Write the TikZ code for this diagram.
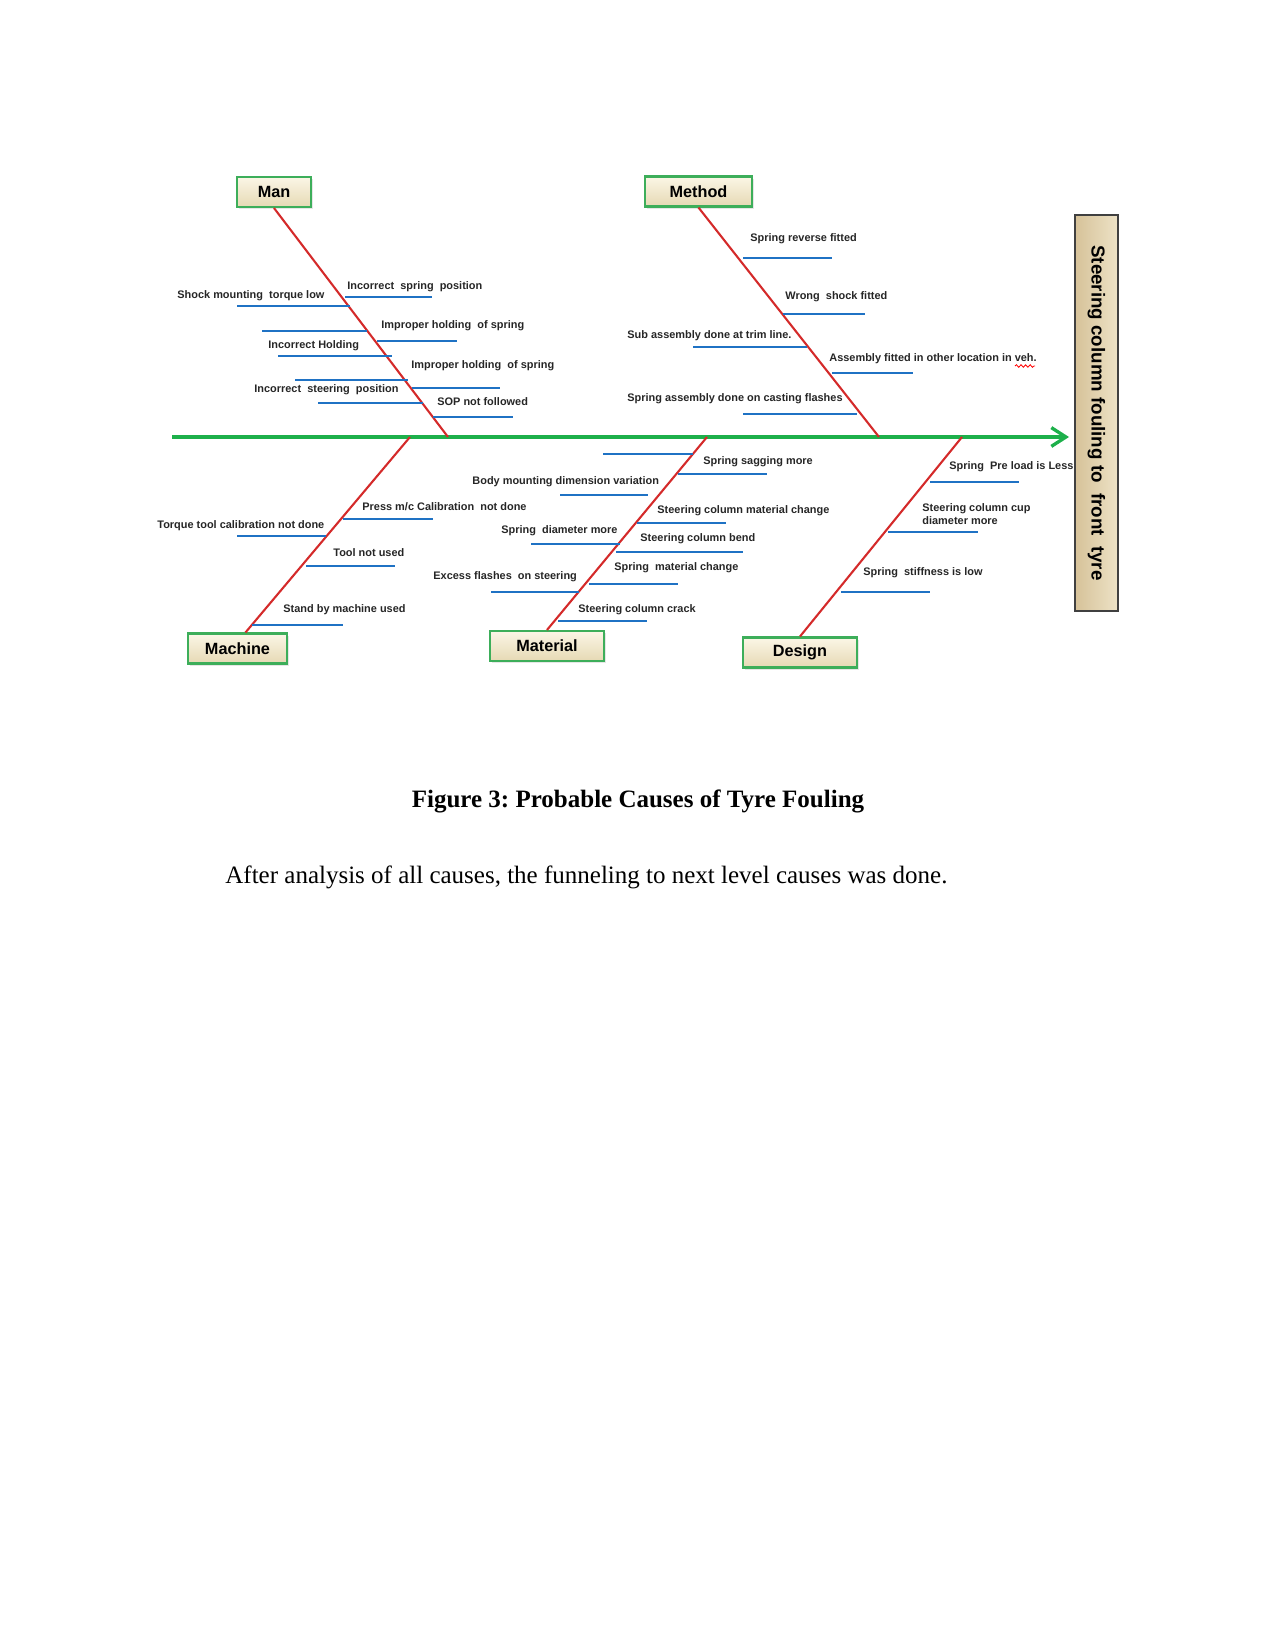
\documentclass[tikz,border=0pt]{standalone}
\usepackage{fontspec}
\setmainfont{Liberation Serif}
\setsansfont{Liberation Sans}
\definecolor{spineGreen}{HTML}{1DB04B}
\definecolor{boneRed}{HTML}{D42A2A}
\definecolor{causeBlue}{HTML}{1F72C4}
\definecolor{catGreen}{HTML}{3DAE5A}
\definecolor{boxTop}{HTML}{FBF6E6}
\definecolor{boxBottom}{HTML}{E6D9B4}
\definecolor{effLight}{HTML}{EDE2C6}
\definecolor{effDark}{HTML}{D6C299}
\usetikzlibrary{arrows.meta, shadows, decorations.pathmorphing}
\newdimen\pxu \pxu=0.48pt
\frenchspacing

\begin{document}
\begin{tikzpicture}[
    x=0.48pt, y=-0.48pt,
    catbox/.style={draw=catGreen, line width=1pt, top color=boxTop, bottom color=boxBottom, minimum height=30\pxu, inner sep=0pt, font=\sffamily\bfseries\fontsize{7.8}{9}\selectfont, drop shadow={shadow xshift=1pt, shadow yshift=-1pt, opacity=0.2}},
    effect/.style={draw=black!75, line width=0.7pt, left color=effDark, right color=effLight, rotate=-90, minimum width=396\pxu, minimum height=43\pxu, inner sep=0pt, font=\sffamily\bfseries\fontsize{9}{11}\selectfont},
    cause/.style={anchor=west, inner sep=0pt, align=left, font=\sffamily\bfseries\fontsize{5.25}{6.2}\selectfont, text=black!85},
    spine/.style={spineGreen, line width=1.6pt},
    bone/.style={boneRed, line width=1pt},
    causeline/.style={causeBlue, line width=1.2pt}
  ]
  \useasboundingbox (0,0) rectangle (1275,1651);

  \coordinate (tail) at (172,437);
  \coordinate (head) at (1069,437);
  \coordinate (manroot) at (448,437);
  \coordinate (methodroot) at (879,437);
  \coordinate (machineroot) at (410,437);
  \coordinate (materialroot) at (707,437);
  \coordinate (designroot) at (962,437);

  \node[effect] (effect) at (1096.5,413) {Steering column fouling to~ front~ tyre};

  \node[catbox, minimum width=74\pxu] (man) at (274,192) {Man};
  \node[catbox, minimum width=107\pxu] (method) at (698.5,191.5) {Method};
  \node[catbox, minimum width=99\pxu] (machine) at (237.5,648.5) {Machine};
  \node[catbox, minimum width=114\pxu] (material) at (547,646) {Material};
  \node[catbox, minimum width=114\pxu] (design) at (800,652.5) {Design};

  \draw[spine, -{Straight Barb[length=7pt, width=9pt]}] (tail) -- (head);
  \draw[bone] (man.south) -- (manroot);
  \draw[bone] (method.south) -- (methodroot);
  \draw[bone] ([xshift=8\pxu]machine.north) -- (machineroot);
  \draw[bone] (material.north) -- (materialroot);
  \draw[bone] (design.north) -- (designroot);

  \foreach \xa/\xb/\yy in {345/432/297, 237/350/306, 262/367/331, 377/457/341, 278/392/356,
      295/408/380, 412/500/388, 318/423/403, 433/513/417,
      743/832/258, 783/865/314, 693/807/347, 832/913/373, 743/857/414,
      343/433/519, 237/326/536, 306/395/566, 252/343/625,
      603/693/454, 678/767/474, 560/648/495, 637/726/523, 531/620/544,
      616/743/552, 589/678/584, 491/579/592, 558/647/621,
      930/1019/482, 888/978/532, 841/930/592}
    \draw[causeline] (\xa,\yy) -- (\xb,\yy);

  \node[cause] (man1) at (347,287) {Incorrect~ spring~ position};
  \node[cause] (man2) at (177,296) {Shock mounting~ torque low};
  \node[cause] (man3) at (381,326) {Improper holding~ of spring};
  \node[cause] (man4) at (268,346) {Incorrect Holding};
  \node[cause] (man5) at (411,366) {Improper holding~ of spring};
  \node[cause] (man6) at (254,390) {Incorrect~ steering~ position};
  \node[cause] (man7) at (437,402) {SOP not followed};

  \node[cause] (method1) at (750,239) {Spring reverse fitted};
  \node[cause] (method2) at (785,297) {Wrong~ shock fitted};
  \node[cause] (method3) at (627,336) {Sub assembly done at trim line.};
  \node[cause] (method4) at (829,359) {Assembly fitted in other location in veh.};
  \node[cause] (method5) at (627,399) {Spring assembly done on casting flashes};
  \draw[red, line width=0.4pt, decorate, decoration={snake, amplitude=0.6pt, segment length=2.2pt}] (1015,366) -- (1035,366);

  \node[cause] (machine1) at (362,507) {Press m/c Calibration~ not done};
  \node[cause] (machine2) at (157,526) {Torque tool calibration not done};
  \node[cause] (machine3) at (333,553) {Tool not used};
  \node[cause] (machine4) at (283,610) {Stand by machine used};

  \node[cause] (material1) at (703,462) {Spring sagging more};
  \node[cause] (material2) at (472,482) {Body mounting dimension variation};
  \node[cause] (material3) at (657,511) {Steering column material change};
  \node[cause] (material4) at (501,531) {Spring~ diameter more};
  \node[cause] (material5) at (640,539) {Steering column bend};
  \node[cause] (material6) at (614,568) {Spring~ material change};
  \node[cause] (material7) at (433,577) {Excess flashes~ on steering};
  \node[cause] (material8) at (578,610) {Steering column crack};

  \node[cause] (design1) at (949,467) {Spring~ Pre load is Less};
  \node[cause] (design2) at (922,514) {Steering column cup\\ diameter more};
  \node[cause] (design3) at (863,573) {Spring~ stiffness is low};

  \node[font=\bfseries\fontsize{12}{14}\selectfont] (caption) at (638,801) {Figure 3: Probable Causes of Tyre Fouling};
  \node[anchor=west, inner sep=0pt, font=\fontsize{12}{14}\selectfont] (after) at (225,877) {After analysis of all causes, the funneling to next level causes was done.};
\end{tikzpicture}
\end{document}
